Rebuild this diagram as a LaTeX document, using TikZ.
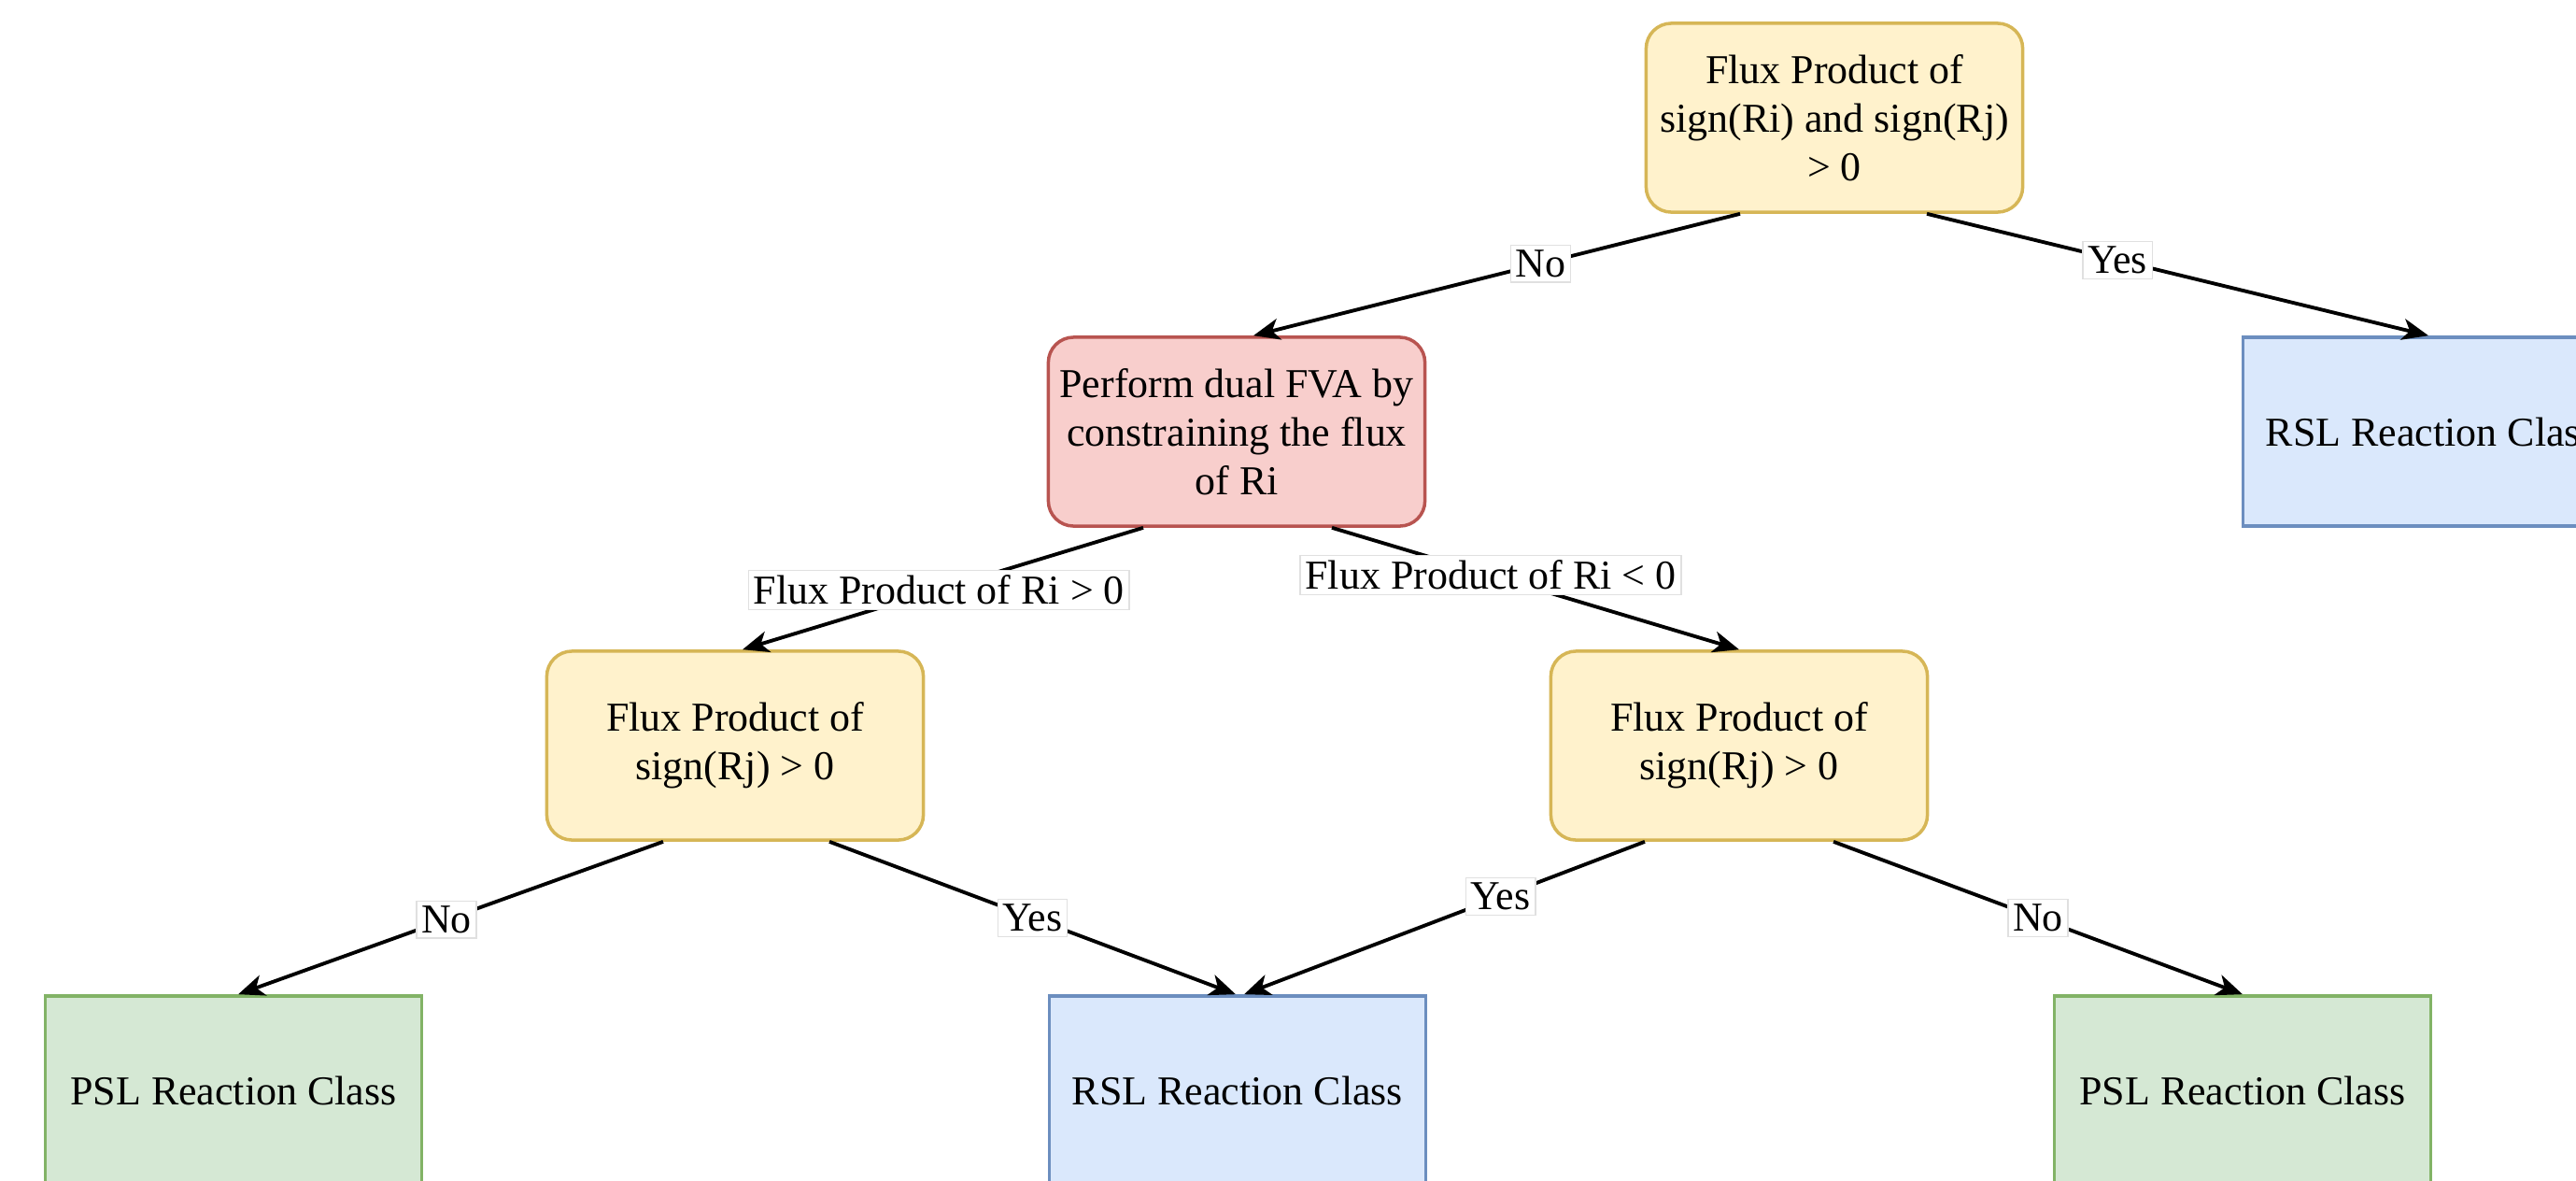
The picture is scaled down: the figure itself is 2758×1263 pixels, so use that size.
\documentclass[tikz,border=0pt]{standalone}
\usepackage{fontspec}
\setmainfont{Liberation Serif}
\usetikzlibrary{arrows.meta,calc}
\definecolor{yfill}{HTML}{FFF2CC}
\definecolor{ydraw}{HTML}{D6B656}
\definecolor{rfill}{HTML}{F8CECC}
\definecolor{rdraw}{HTML}{B85450}
\definecolor{bfill}{HTML}{DAE8FC}
\definecolor{bdraw}{HTML}{6C8EBF}
\definecolor{gfill}{HTML}{D5E8D4}
\definecolor{gdraw}{HTML}{82B366}
\begin{document}
\begin{tikzpicture}[x=0.01cm,y=-0.01cm,
        font=\fontsize{12.5}{14.8}\selectfont,
        box/.style={line width=1pt, minimum width=4.03cm, minimum height=2.02cm, align=center, inner sep=0pt},
        decision/.style={box, rounded corners=0.27cm, fill=yfill, draw=ydraw},
        action/.style={box, rounded corners=0.27cm, fill=rfill, draw=rdraw},
        rslbox/.style={box, fill=bfill, draw=bdraw},
        pslbox/.style={box, fill=gfill, draw=gdraw},
        edge/.style={line width=1.1pt, -{Stealth[length=8pt,width=6.5pt,inset=2.2pt]}},
        lab/.style={fill=white, draw=black!12, line width=0.4pt, inner sep=1.5pt}]
    \path[use as bounding box] (0,0) rectangle (2758,1263);
    \clip (0,0) rectangle (2758,1263);

    % decision nodes
    \node[decision] (top) at (1964,126) {Flux Product of\\sign(Ri) and sign(Rj)\\> 0};
    \node[action] (red) at (1324,462) {Perform dual FVA by\\constraining the flux\\of Ri};
    \node[decision] (decL) at (787,798) {Flux Product of\\sign(Rj) > 0};
    \node[decision] (decR) at (1862,798) {Flux Product of\\sign(Rj) > 0};

    % reaction classes
    \node[rslbox] (rslR) at (2603,462) {RSL Reaction Class};
    \node[pslbox] (pslL) at (250,1167) {PSL Reaction Class};
    \node[rslbox] (rslM) at (1325,1167) {RSL Reaction Class};
    \node[pslbox] (pslR) at (2401,1167) {PSL Reaction Class};

    % connectors
    \draw[edge] ($(top.south)+(-101,0)$) -- node[lab, pos=0.41] {No} ($(red.north)+(18,0)$);
    \draw[edge] ($(top.south)+(99,0)$) -- node[lab, pos=0.38] {Yes} ($(rslR.north)+(-3,0)$);
    \draw[edge] ($(red.south)+(-100,0)$) -- node[lab, pos=0.51] {Flux Product of Ri > 0} ($(decL.north)+(8,0)$);
    \draw[edge] ($(red.south)+(102,0)$) -- node[lab, pos=0.39] {Flux Product of Ri < 0} (decR.north);
    \draw[edge] ($(decL.south)+(-77,0)$) -- node[lab, pos=0.51] {No} ($(pslL.north)+(5,0)$);
    \draw[edge] ($(decL.south)+(101,0)$) -- node[lab, pos=0.5] {Yes} ($(rslM.north)+(-2,0)$);
    \draw[edge] ($(decR.south)+(-101,0)$) -- node[lab, pos=0.36] {Yes} ($(rslM.north)+(7,0)$);
    \draw[edge] ($(decR.south)+(101,0)$) -- node[lab, pos=0.5] {No} (pslR.north);
\end{tikzpicture}
\end{document}
